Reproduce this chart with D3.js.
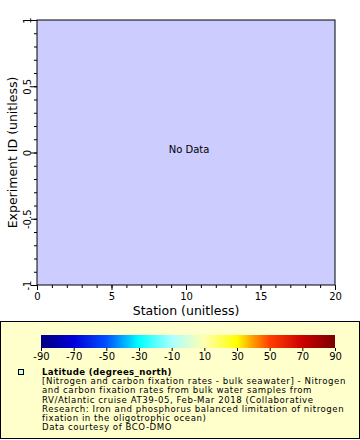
<!DOCTYPE html>
<html><head><meta charset="utf-8">
<script src="https://cdn.jsdelivr.net/npm/d3@7"></script>
<style>body{margin:0;background:#fff}svg{display:block;font-family:"DejaVu Sans",sans-serif}</style>
</head><body><svg id="c" width="360" height="440"></svg>
<script>
const xDomain = [0, 20];
const yDomain = [-1, 1];
const xTicks = [0, 5, 10, 15, 20];
const yTicks = [-1, -0.5, 0, 0.5, 1];
const yTickLabels = ["-1", "-0.5", "0", "0.5", "1"];
const cbTicks = [-90, -70, -50, -30, -10, 10, 30, 50, 70, 90];
const cbStopValues = [-90, -70, -50, -30, -10, 10, 30, 40, 50, 70, 90];
const cbStopColors = ["#000080", "#0000d8", "#0050ff", "#00ffff", "#aaffff", "#ffffb0", "#ffff00", "#ff9900", "#ff4000", "#cc0000", "#7a0000"];
const legendTitle = "Latitude (degrees_north)";
const legendLines = [
  "[Nitrogen and carbon fixation rates - bulk seawater] - Nitrogen",
  "and carbon fixation rates from bulk water samples from",
  "RV/Atlantic cruise AT39-05, Feb-Mar 2018 (Collaborative",
  "Research:  Iron and phosphorus balanced limitation of nitrogen",
  "fixation in the oligotrophic ocean)",
  "Data courtesy of BCO-DMO"
];

const svg = d3.select("#c");
const L = 37, R = 335, T = 20, B = 285;
const x = d3.scaleLinear().domain(xDomain).range([L, R]);
const y = d3.scaleLinear().domain(yDomain).range([B, T]);

svg.append("rect").attr("x", L).attr("y", T).attr("width", R - L).attr("height", B - T)
  .attr("fill", "#ccccff").attr("stroke", "#000").attr("stroke-width", 1);

// x axis
const gx = svg.append("g").attr("transform", `translate(0,${B})`);
gx.call(d3.axisBottom(x).tickValues(d3.range(0, 21, 1)).tickSize(3).tickFormat(""));
gx.select(".domain").remove();
const gx2 = svg.append("g").attr("transform", `translate(0,${B})`);
gx2.call(d3.axisBottom(x).tickValues(xTicks).tickSize(5).tickPadding(3).tickFormat(d => String(d)));
gx2.select(".domain").remove();
gx2.selectAll("text").attr("font-size", 10).attr("font-family", "DejaVu Sans").attr("fill", "#000");

// y axis
const gy = svg.append("g").attr("transform", `translate(${L},0)`);
gy.call(d3.axisLeft(y).tickValues(d3.range(-10, 11, 1).map(d => d / 10)).tickSize(3).tickFormat(""));
gy.select(".domain").remove();
const gy2 = svg.append("g").attr("transform", `translate(${L},0)`);
gy2.call(d3.axisLeft(y).tickValues(yTicks).tickSize(6).tickFormat((d, i) => yTickLabels[i]));
gy2.select(".domain").remove();
gy2.selectAll("text").attr("font-size", 10).attr("font-family", "DejaVu Sans").attr("fill", "#000")
  .attr("text-anchor", "middle").attr("dy", "0")
  .attr("transform", "translate(-6,0) rotate(-90)").attr("x", 0).attr("y", 0);

// axis titles
svg.append("text").attr("x", (L + R) / 2).attr("y", 315).attr("text-anchor", "middle")
  .attr("font-size", 12.5).text("Station (unitless)");
svg.append("text").attr("transform", `translate(17,${(T + B) / 2}) rotate(-90)`).attr("text-anchor", "middle")
  .attr("font-size", 12.5).text("Experiment ID (unitless)");

svg.append("text").attr("x", 189).attr("y", 153).attr("text-anchor", "middle")
  .attr("font-size", 10).text("No Data");

// legend
svg.append("rect").attr("x", 0.5).attr("y", 321.5).attr("width", 359).attr("height", 117)
  .attr("fill", "#ffffcc").attr("stroke", "#000").attr("stroke-width", 1);

const cb = d3.scaleLinear().domain([-90, 90]).range([41, 335]);
const grad = svg.append("defs").append("linearGradient").attr("id", "g").attr("x1", "0%").attr("x2", "100%");
cbStopValues.forEach((v, i) => grad.append("stop").attr("offset", ((v + 90) / 180 * 100) + "%").attr("stop-color", cbStopColors[i]));
svg.append("rect").attr("x", 41).attr("y", 335).attr("width", 294).attr("height", 13).attr("fill", "url(#g)");
const gcb = svg.append("g").attr("transform", "translate(0,348)");
gcb.call(d3.axisBottom(cb).tickValues(cbTicks).tickSize(3).tickPadding(2).tickFormat(d => String(d)));
gcb.select(".domain").remove();
gcb.selectAll("text").attr("font-size", 10).attr("font-family", "DejaVu Sans").attr("fill", "#000");

svg.append("rect").attr("x", 18.5).attr("y", 369.5).attr("width", 5).attr("height", 5)
  .attr("fill", "#ccffee").attr("stroke", "#000").attr("stroke-width", 1);
svg.append("text").attr("x", 42).attr("y", 375).attr("font-size", 8.6).attr("letter-spacing", 0.35)
  .attr("font-weight", "bold").text(legendTitle);
legendLines.forEach((t, i) => {
  svg.append("text").attr("x", 42).attr("y", 384.2 + i * 9.2).attr("font-size", 8.6)
    .attr("letter-spacing", 0.55).text(t);
});
</script></body></html>
